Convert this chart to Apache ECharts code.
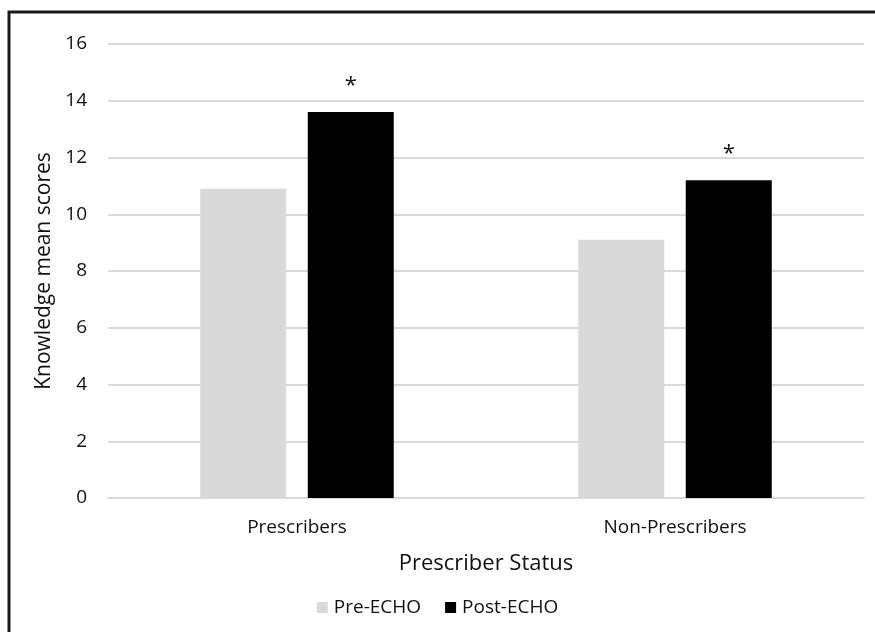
<!DOCTYPE html>
<html>
<head>
<meta charset="utf-8">
<script src="https://cdn.jsdelivr.net/npm/echarts@6/dist/echarts.min.js"></script>
<style>
    html, body { margin: 0; padding: 0; background: #fff; }
    #chart { width: 875px; height: 632px; }
</style>
</head>
<body>
<div id="chart"></div>
<script>
var categories = ['Prescribers', 'Non-Prescribers'];
var preEcho = [10.9, 9.1];
var postEcho = [13.6, 11.2];
var significance = ['*', '*'];
var yTicks = [0, 2, 4, 6, 8, 10, 12, 14, 16];

var fontFamily = '"Open Sans", "Noto Sans", sans-serif';
var chart = echarts.init(document.getElementById('chart'));

var option = {
    backgroundColor: '#fff',
    animation: false,
    textStyle: { fontFamily: fontFamily },
    graphic: [{
        // frame round the figure (left and top edges only are visible)
        type: 'polyline',
        shape: { points: [[9, 640], [9, 12], [880, 12]] },
        style: { stroke: '#1a1a1a', lineWidth: 3, fill: null }
    }],
    grid: { left: 108, right: 11, top: 44, bottom: 134 },
    legend: {
        bottom: 10,
        left: 'center',
        itemWidth: 11,
        itemHeight: 11,
        itemGap: 24,
        icon: 'rect',
        textStyle: { fontSize: 19, color: '#111', fontFamily: fontFamily, padding: [0, 0, 0, 1] },
        data: ['Pre-ECHO', 'Post-ECHO']
    },
    xAxis: {
        type: 'category',
        data: categories,
        name: 'Prescriber Status',
        nameLocation: 'middle',
        nameGap: 55,
        nameTextStyle: { fontSize: 22, color: '#111' },
        axisLine: { lineStyle: { color: '#d9d9d9', width: 2 } },
        axisTick: { show: false },
        axisLabel: { fontSize: 19, color: '#111', margin: 20 }
    },
    yAxis: {
        type: 'value',
        min: yTicks[0],
        max: yTicks[yTicks.length - 1],
        interval: 2,
        name: 'Knowledge mean scores',
        nameLocation: 'middle',
        nameGap: 53,
        nameTextStyle: { fontSize: 21, color: '#111' },
        axisLine: { show: false },
        axisTick: { show: false },
        axisLabel: { fontSize: 19, color: '#111', margin: 21 },
        splitLine: { lineStyle: { color: '#d9d9d9', width: 2 } }
    },
    series: [
        {
            name: 'Pre-ECHO',
            type: 'bar',
            data: preEcho,
            barWidth: 86,
            barGap: '25%',
            itemStyle: { color: '#d9d9d9' }
        },
        {
            name: 'Post-ECHO',
            type: 'bar',
            data: postEcho,
            barWidth: 86,
            barGap: '25%',
            itemStyle: { color: '#000' },
            label: {
                show: true,
                position: 'top',
                distance: 15,
                fontSize: 22,
                color: '#111',
                formatter: function (p) { return significance[p.dataIndex]; }
            }
        }
    ]
};

chart.setOption(option);
</script>
</body>
</html>
